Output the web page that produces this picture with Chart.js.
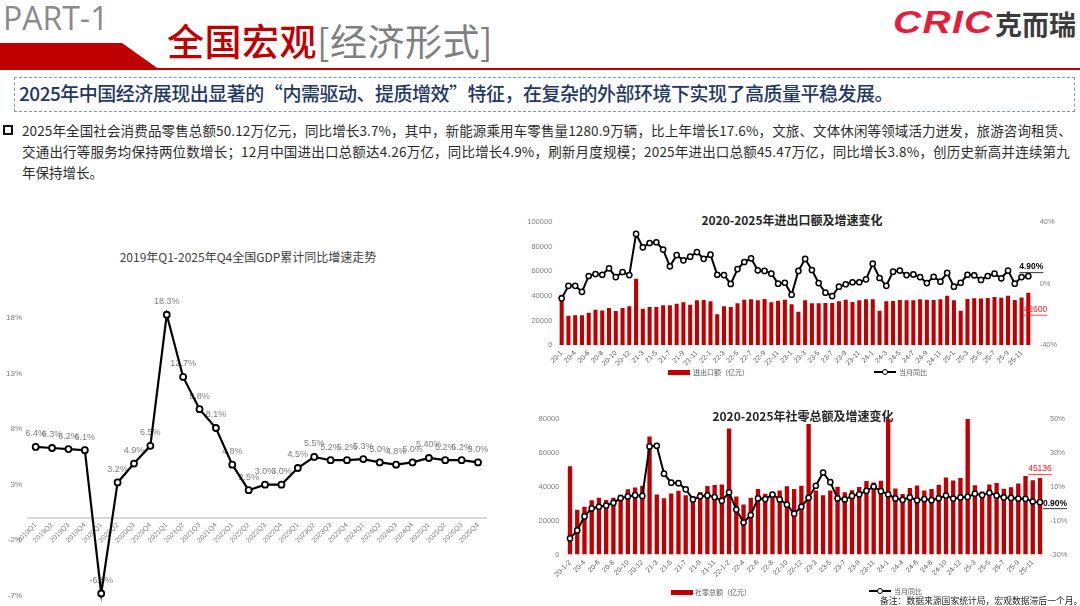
<!DOCTYPE html>
<html>
<head>
<meta charset="utf-8">
<script src="https://cdn.jsdelivr.net/npm/chart.js@4.4.1/dist/chart.umd.min.js"></script>
<style>
  html, body { margin: 0; padding: 0; }
  body {
    width: 1080px; height: 606px; overflow: hidden; position: relative; background: #fff;
    font-family: "Noto Sans CJK SC", "Noto Sans", sans-serif;
  }
  .abs { position: absolute; white-space: nowrap; }
  #part { left: 3px; top: -2px; font: 32px/40px "Open Sans", sans-serif; color: #8a8a8a; }
  #band { left: 0; top: 43px; width: 160px; height: 27px; background: #c00000;
          clip-path: polygon(0 0, 122px 0, 160px 27px, 0 27px); }
  #rule { left: 0; top: 68px; width: 1080px; height: 2px; background: #c00000; }
  #title { left: 167px; top: 18px; font-size: 37px; line-height: 44px; letter-spacing: 0.5px; }
  #title .r { color: #c00000; font-weight: 500; }
  #title .g { color: #808080; font-weight: 400; }
  #logo1 { left: 893px; top: 6px; font: italic 900 31px/34px "Liberation Sans", sans-serif; color: #e41e3a;
           letter-spacing: 1px; transform: scaleX(1.26); transform-origin: left center; }
  #logo2 { left: 995px; top: 7px; font-size: 27px; line-height: 34px; font-weight: 700; color: #3c3c3c; }
  #box { left: 14px; top: 77px; width: 1061px; height: 35px; border: 1px dashed #8497b0; box-sizing: border-box; }
  #lead { left: 19px; top: 80px; font-size: 19px; line-height: 26px; color: #1f3864; font-weight: 500; }
  #bullet { left: 3px; top: 125px; width: 6px; height: 6px; border: 2px solid #111; }
  .para { left: 22px; font-size: 13.5px; line-height: 20px; color: #2b2b2b; }
  .ctitle { font-size: 12px; line-height: 16px; color: #262626; transform: translateX(-50%); }
  .bold { font-weight: 700; }
  .wrap { position: absolute; }
  .lg { font-size: 7px; line-height: 10px; color: #595959; }
  .sw { position: absolute; background: #c00000; }
  .ln { position: absolute; height: 2px; background: #000; }
  .dot { position: absolute; width: 4px; height: 4px; border: 1.5px solid #000; border-radius: 50%; background: #fff; }
  #note { left: 880px; top: 595px; font-size: 8.8px; line-height: 12px; color: #262626; }
</style>
</head>
<body>
<div id="part" class="abs">PART-1</div>
<div id="band" class="abs"></div>
<div id="rule" class="abs"></div>
<div id="title" class="abs"><span class="r">全国宏观</span><span class="g">[经济形式]</span></div>
<div id="logo1" class="abs">CRIC</div>
<div id="logo2" class="abs">克而瑞</div>
<div id="box" class="abs"></div>
<div id="lead" class="abs fit" data-w="874">2025年中国经济展现出显著的“内需驱动、提质增效”特征，在复杂的外部环境下实现了高质量平稳发展。</div>
<div id="bullet" class="abs"></div>
<div class="abs para fit" data-w="1050" style="top:120px">2025年全国社会消费品零售总额50.12万亿元，同比增长3.7%，其中，新能源乘用车零售量1280.9万辆，比上年增长17.6%，文旅、文体休闲等领域活力迸发，旅游咨询租赁、</div>
<div class="abs para fit" data-w="1048" style="top:141px">交通出行等服务均保持两位数增长；12月中国进出口总额达4.26万亿，同比增长4.9%，刷新月度规模；2025年进出口总额45.47万亿，同比增长3.8%，创历史新高并连续第九</div>
<div class="abs para" style="top:162px">年保持增长。</div>

<div class="abs ctitle" style="left:248px;top:249px;color:#404040">2019年Q1-2025年Q4全国GDP累计同比增速走势</div>
<div class="wrap" style="left:0;top:280px;width:510px;height:326px"><canvas id="gdp"></canvas></div>

<div class="abs ctitle bold" style="left:792px;top:212px">2020-2025年进出口额及增速变化</div>
<div class="wrap" style="left:520px;top:205px;width:560px;height:172px"><canvas id="trade"></canvas></div>
<div class="sw" style="left:668px;top:369.5px;width:22px;height:5px"></div>
<div class="abs lg" style="left:693px;top:367px">进出口额（亿元）</div>
<div class="ln" style="left:874px;top:371px;width:22px"></div>
<div class="dot" style="left:881.5px;top:368.5px"></div>
<div class="abs lg" style="left:899px;top:367px">当月同比</div>

<div class="abs ctitle bold" style="left:803px;top:408px">2020-2025年社零总额及增速变化</div>
<div class="wrap" style="left:520px;top:400px;width:560px;height:182px"><canvas id="retail"></canvas></div>
<div class="sw" style="left:671px;top:589.5px;width:22px;height:5px"></div>
<div class="abs lg" style="left:695px;top:587px">社零总额（亿元）</div>
<div class="ln" style="left:869px;top:590px;width:22px"></div>
<div class="dot" style="left:876.5px;top:587.5px"></div>
<div class="abs lg" style="left:894px;top:586px">当月同比</div>
<div id="note" class="abs">备注：数据来源国家统计局，宏观数据滞后一个月。</div>

<script>
// GDP 累计同比 (%)
const gdpQuarters = ['2019Q1','2019Q2','2019Q3','2019Q4','2020Q1','2020Q2','2020Q3','2020Q4',
  '2021Q1','2021Q2','2021Q3','2021Q4','2022Q1','2022Q2','2022Q3','2022Q4',
  '2023Q1','2023Q2','2023Q3','2023Q4','2024Q1','2024Q2','2024Q3','2024Q4',
  '2025Q1','2025Q2','2025Q3','2025Q4'];
const gdpGrowth = [6.4, 6.3, 6.2, 6.1, -6.8, 3.2, 4.9, 6.5, 18.3, 12.7, 9.8, 8.1, 4.8, 2.5, 3.0, 3.0,
  4.5, 5.5, 5.2, 5.2, 5.3, 5.0, 4.8, 5.0, 5.4, 5.2, 5.2, 5.0];
const gdpLabelText = ['6.4%','6.3%','6.2%','6.1%','-6.8%','3.2%','4.9%','6.5%','18.3%','12.7%','9.8%','8.1%',
  '4.8%','2.5%','3.0%','3.0%','4.5%','5.5%','5.2%','5.2%','5.3%','5.0%','4.8%','5.0%','5.40%','5.2%','5.2%','5.0%'];
const gdpTicks = [-7, -2, 3, 8, 13, 18];

// 进出口额 (亿元) 与当月同比 (%)
const tradeMonths = ['20-1','20-3','20-4','20-5','20-6','20-7','20-8','20-9','20-10','20-11','20-12',
  '21-1','21-3','21-4','21-5','21-6','21-7','21-8','21-9','21-10','21-11','21-12',
  '22-1','22-2','22-3','22-4','22-5','22-6','22-7','22-8','22-9','22-10','22-11','22-12',
  '23-1','23-2','23-3','23-4','23-5','23-6','23-7','23-8','23-9','23-10','23-11','23-12',
  '24-1','24-2','24-3','24-4','24-5','24-6','24-7','24-8','24-9','24-10','24-11','24-12',
  '25-1','25-2','25-3','25-4','25-5','25-6','25-7','25-8','25-9','25-10','25-11','25-12'];
const tradeValue = [41000, 23900, 24300, 24300, 26300, 28800, 28200, 30200, 27700, 30200, 31500,
  54000, 29600, 31000, 31000, 32300, 32300, 33700, 34800, 32900, 36400, 36700,
  35600, 25000, 31500, 31000, 34000, 36900, 37200, 36400, 37500, 34800, 36100, 36900,
  33200, 27200, 36400, 34000, 34000, 34200, 34200, 35600, 36900, 35000, 36400, 37200,
  37200, 28000, 35600, 35900, 36700, 36400, 36400, 37200, 36900, 36700, 37200, 40200,
  36400, 28000, 37500, 38000, 37800, 38300, 39100, 38600, 40200, 36700, 38800, 42600];
const tradeYoY = [-9.6, -1.4, -1.4, -5.3, 5.0, 6.3, 5.8, 10.0, 4.3, 7.6, 5.6,
  32.4, 23.7, 26.5, 27.0, 22.2, 11.3, 18.6, 15.2, 17.6, 20.6, 16.2,
  18.9, 5.8, 5.6, -0.2, 9.5, 14.1, 16.5, 8.7, 8.3, 6.5, 0.0, 0.6,
  -7.2, 8.3, 16.1, 8.9, 0.4, -5.9, -8.1, -2.0, -0.4, 0.9, 0.9, 2.8,
  13.0, 3.7, -1.4, 7.8, 8.5, 5.6, 6.0, 4.3, 0.4, 4.5, 1.3, 7.0,
  -2.0, 0.6, 5.8, 5.4, 2.4, 5.0, 6.5, 3.5, 8.5, 0.0, 4.3, 4.9];
const tradeLeftTicks = [0, 20000, 40000, 60000, 80000, 100000];
const tradeRightTicks = [-40, 0, 40];

// 社零总额 (亿元) 与当月同比 (%)
const retailMonths = ['20-1-2','20-3','20-4','20-5','20-6','20-7','20-8','20-9','20-10','20-11','20-12',
  '21-1-2','21-3','21-4','21-5','21-6','21-7','21-8','21-9','21-10','21-11','21-12',
  '22-1-2','22-3','22-4','22-5','22-6','22-7','22-8','22-9','22-10','22-11','22-12',
  '23-1-2','23-3','23-4','23-5','23-6','23-7','23-8','23-9','23-10','23-11','23-12',
  '24-1','24-3','24-4','24-5','24-6','24-7','24-8','24-9','24-10','24-11','24-12',
  '25-1-2','25-3','25-4','25-5','25-6','25-7','25-8','25-9','25-10','25-11','25-12'];
const retailValue = [52130, 26450, 28178, 31973, 33526, 32203, 33571, 35295, 38576, 39514, 40566,
  69737, 35484, 33153, 35945, 37586, 34925, 34395, 36833, 40454, 41043, 41269,
  74426, 34233, 29483, 33547, 38742, 35870, 36258, 37745, 40271, 38615, 40542,
  77067, 37855, 34910, 37803, 39951, 36761, 37933, 39826, 43333, 42505, 43550,
  81307, 39020, 35699, 39211, 40732, 37757, 38726, 41112, 45396, 43763, 45172,
  83731, 40940, 37174, 41326, 42287, 38780, 39668, 41971, 46291, 43898, 45136];
const retailYoY = [-20.5, -15.8, -7.5, -2.8, -1.8, -1.1, 0.5, 3.3, 4.3, 5.0, 4.6,
  33.8, 34.2, 17.7, 12.4, 12.1, 8.5, 2.5, 4.4, 4.9, 3.9, 1.7,
  6.7, -3.5, -11.1, -6.7, 3.1, 2.7, 5.4, 2.5, -0.5, -5.9, -1.8,
  3.5, 10.6, 18.4, 12.7, 3.1, 2.5, 4.6, 5.5, 7.6, 10.1, 7.4,
  5.5, 3.1, 2.3, 3.7, 2.0, 2.7, 2.1, 3.2, 4.8, 3.0, 3.7,
  4.0, 5.9, 5.1, 6.4, 4.8, 3.7, 3.4, 3.0, 2.9, 1.3, 0.9];
const retailLeftTicks = [0, 20000, 40000, 60000, 80000];
const retailRightTicks = [-30, -10, 10, 30, 50];

const RED = '#c00000';
const NUM_FONT = '"Liberation Sans", "Noto Sans CJK SC", sans-serif';
const tickGray = '#7f7f7f';

// squeeze/stretch long text lines to the widths in the slide
document.querySelectorAll('.fit').forEach((el) => {
  const w = el.getBoundingClientRect().width;
  const n = el.textContent.length;
  el.style.letterSpacing = ((+el.dataset.w - w) / n) + 'px';
});

const gdpLabels = {
  id: 'gdpLabels',
  beforeDatasetsDraw(chart) {
    const { ctx } = chart;
    const meta = chart.getDatasetMeta(0);
    ctx.save();
    ctx.font = '9px ' + NUM_FONT;
    ctx.fillStyle = '#7f7f7f';
    ctx.textAlign = 'center';
    ctx.textBaseline = 'middle';
    meta.data.forEach((pt, i) => ctx.fillText(gdpLabelText[i], pt.x, pt.y - 13));
    ctx.restore();
  },
};

const endLabels = {
  id: 'endLabels',
  afterDatasetsDraw(chart, args, opts) {
    const { ctx } = chart;
    (opts.items || []).forEach((it) => {
      const meta = chart.getDatasetMeta(it.dataset);
      const el = meta.data[meta.data.length - 1];
      const x = el.x + it.dx;
      const y = el.y + it.dy;
      ctx.save();
      ctx.font = it.font;
      ctx.fillStyle = it.color;
      ctx.textAlign = 'center';
      ctx.textBaseline = 'middle';
      ctx.fillText(it.text, x, y);
      const w = ctx.measureText(it.text).width;
      ctx.strokeStyle = it.color;
      ctx.lineWidth = 0.8;
      ctx.beginPath();
      ctx.moveTo(x - w / 2, y + 5.5);
      ctx.lineTo(x + w / 2, y + 5.5);
      ctx.stroke();
      ctx.restore();
    });
  },
};

function fixedTicks(list) {
  return (scale) => {
    scale.ticks = list.map((v) => ({ value: v }));
  };
}

new Chart(document.getElementById('gdp'), {
  type: 'line',
  data: {
    labels: gdpQuarters,
    datasets: [{
      data: gdpGrowth,
      borderColor: '#000',
      borderWidth: 2.2,
      pointRadius: 3,
      pointBorderWidth: 1.8,
      pointBackgroundColor: '#fff',
      pointBorderColor: '#000',
      tension: 0,
      clip: false,
    }],
  },
  options: {
    responsive: true,
    maintainAspectRatio: false,
    animation: false,
    layout: { padding: { top: 8.7, bottom: 6, left: 0, right: 23.8 } },
    plugins: { legend: { display: false }, tooltip: { enabled: false } },
    scales: {
      x: {
        type: 'category',
        offset: true,
        position: { y: 0 },
        grid: { display: false, drawTicks: false },
        border: { display: true, color: '#d9d9d9', width: 2 },
        ticks: { autoSkip: false, minRotation: 45, maxRotation: 45, padding: 3, color: tickGray, font: { size: 7, family: NUM_FONT } },
      },
      y: {
        min: -7,
        max: 20.5,
        grid: { display: false, drawTicks: false },
        border: { display: false },
        afterBuildTicks: fixedTicks(gdpTicks),
        afterFit: (s) => { s.width = 27.5; },
        ticks: { padding: 5.5, color: tickGray, font: { size: 8, family: NUM_FONT }, callback: (v) => v + '%' },
      },
    },
  },
  plugins: [gdpLabels],
});

function comboChart(id, cfg) {
  return new Chart(document.getElementById(id), {
    type: 'bar',
    data: {
      labels: cfg.labels,
      datasets: [
        {
          type: 'line',
          data: cfg.line,
          yAxisID: 'y1',
          order: 0,
          borderColor: '#000',
          borderWidth: 2,
          pointRadius: 2.6,
          pointBorderWidth: 1.5,
          pointBackgroundColor: '#fff',
          pointBorderColor: '#000',
          tension: 0,
          clip: false,
        },
        {
          type: 'bar',
          data: cfg.bars,
          yAxisID: 'y',
          order: 1,
          backgroundColor: RED,
          barPercentage: 0.6,
          categoryPercentage: 1,
        },
      ],
    },
    options: {
      responsive: true,
      maintainAspectRatio: false,
      animation: false,
      layout: { padding: { top: cfg.top, bottom: 0, left: 0, right: 0 } },
      plugins: { legend: { display: false }, tooltip: { enabled: false }, endLabels: { items: cfg.labelsAtEnd } },
      scales: {
        x: {
          offset: true,
          grid: { display: false, drawTicks: false },
          border: { display: false },
          afterFit: (s) => { s.height = cfg.xh; },
          ticks: {
            autoSkip: false, minRotation: 45, maxRotation: 45, padding: 4,
            color: '#595959', font: { size: 7, family: NUM_FONT },
            callback: (v, i) => (i % 2 === 0 ? cfg.labels[i] : ''),
          },
        },
        y: {
          position: 'left',
          min: cfg.leftTicks[0],
          max: cfg.leftTicks[cfg.leftTicks.length - 1],
          grid: { display: false, drawTicks: false },
          border: { display: false },
          afterBuildTicks: fixedTicks(cfg.leftTicks),
          afterFit: (s) => { s.width = cfg.lw; },
          ticks: { padding: cfg.lpad, color: tickGray, font: { size: 7.5, family: NUM_FONT }, callback: (v) => String(v) },
        },
        y1: {
          position: 'right',
          min: cfg.rightTicks[0],
          max: cfg.rightTicks[cfg.rightTicks.length - 1],
          grid: { display: false, drawTicks: false },
          border: { display: false },
          afterBuildTicks: fixedTicks(cfg.rightTicks),
          afterFit: (s) => { s.width = cfg.rw; },
          ticks: { padding: cfg.rpad, color: tickGray, font: { size: 7.5, family: NUM_FONT }, callback: (v) => v + '%' },
        },
      },
    },
    plugins: [endLabels],
  });
}

comboChart('trade', {
  labels: tradeMonths,
  bars: tradeValue,
  line: tradeYoY,
  leftTicks: tradeLeftTicks,
  rightTicks: tradeRightTicks,
  top: 17.3, xh: 32, lw: 38.3, rw: 48.3, lpad: 6, rpad: 8,
  labelsAtEnd: [
    { dataset: 0, text: tradeYoY[tradeYoY.length - 1].toFixed(2) + '%', dx: 3, dy: -9, color: '#000', font: 'bold 8.5px ' + NUM_FONT },
    { dataset: 1, text: String(tradeValue[tradeValue.length - 1]), dx: 7, dy: 17, color: '#ff1a1a', font: '8.5px ' + NUM_FONT },
  ],
});

comboChart('retail', {
  labels: retailMonths,
  bars: retailValue,
  line: retailYoY,
  leftTicks: retailLeftTicks,
  rightTicks: retailRightTicks,
  top: 19, xh: 27.5, lw: 46.4, rw: 36.4, lpad: 7, rpad: 6.4,
  labelsAtEnd: [
    { dataset: 0, text: retailYoY[retailYoY.length - 1].toFixed(2) + '%', dx: 15, dy: 1, color: '#000', font: 'bold 8.5px ' + NUM_FONT },
    { dataset: 1, text: String(retailValue[retailValue.length - 1]), dx: 0, dy: -9, color: '#ff1a1a', font: '8.5px ' + NUM_FONT },
  ],
});
</script>
</body>
</html>
